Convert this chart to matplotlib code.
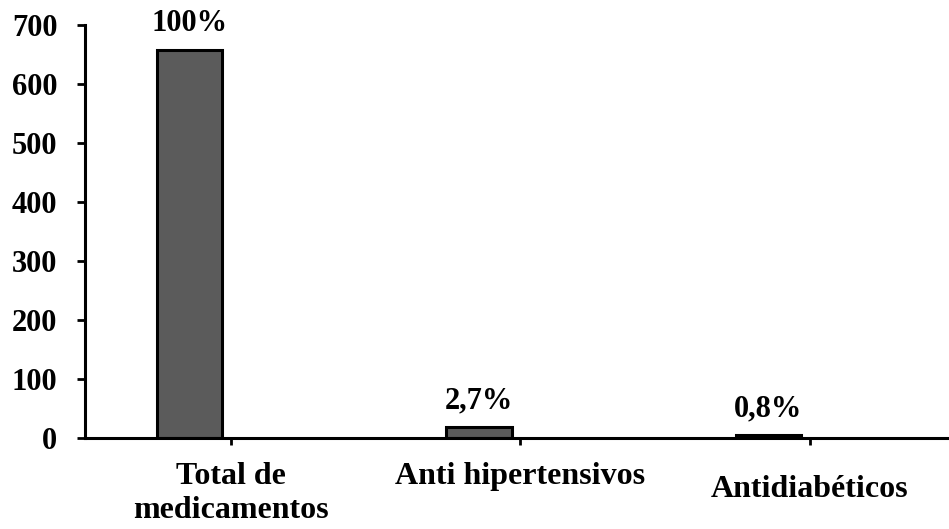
import matplotlib.pyplot as plt
import numpy as np

# data
categories = ["Total de\nmedicamentos", "Anti hipertensivos", "Antidiabéticos"]
counts = [657, 18, 5]
pct_labels = ["100%", "2,7%", "0,8%"]

plt.rcParams['font.family'] = ['Liberation Serif', 'DejaVu Serif']
plt.rcParams['font.weight'] = 'bold'

fig = plt.figure(figsize=(9.49, 5.29), dpi=100)
ax = fig.add_axes([0.0896, 0.172, 0.9094, 0.781])

x = np.arange(len(categories))
bar_w = 0.225
offset = -0.143
bars = ax.bar(x + offset, counts, width=bar_w, color='#5b5b5b',
              edgecolor='black', linewidth=2.2)

for xi, c, lab in zip(x, counts, pct_labels):
    ax.annotate(lab, (xi + offset, c), xytext=(0, 19), textcoords='offset points',
                ha='center', va='center', fontsize=22, fontweight='bold')

ax.set_ylim(0, 700)
ax.set_xlim(-0.504, 2.477)
ax.set_yticks(range(0, 701, 100))
ax.set_xticks(x)
ax.set_xticklabels([])

for s in ['top', 'right']:
    ax.spines[s].set_visible(False)
for s in ['left', 'bottom']:
    ax.spines[s].set_linewidth(2.2)

ax.tick_params(axis='y', length=6, width=2, pad=14, labelsize=22)
ax.tick_params(axis='x', length=5, width=2)
for t in ax.get_yticklabels():
    t.set_fontweight('bold')

# category labels (third one sits a bit lower, as in the original)
label_y = [-0.058, -0.058, -0.09]
for xi, lab, ly in zip(x, categories, label_y):
    ax.text(xi, ly, lab, transform=ax.get_xaxis_transform(), ha='center', va='top',
            fontsize=23, fontweight='bold', linespacing=1.25)

fig.savefig('out.png', dpi=100)
